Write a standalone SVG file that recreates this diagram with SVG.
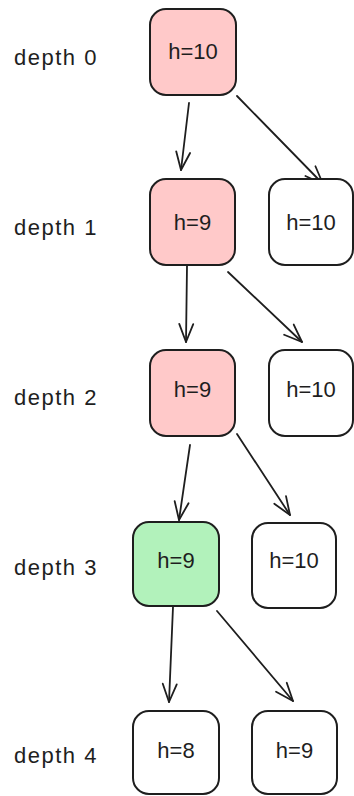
<svg xmlns="http://www.w3.org/2000/svg" width="354" height="796" viewBox="0 0 354 796">
  <style>
    .box { stroke: #1e1e1e; stroke-width: 2; }
    .red { fill: #ffc9c9; }
    .green { fill: #b2f2bb; }
    .plain { fill: #ffffff; }
    .lbl { font-family: "Liberation Sans", Arial, sans-serif; font-size: 22px; fill: #1e1e1e; }
    .val { text-anchor: middle; }
    .depth { letter-spacing: 1.5px; }
    .edge { fill: none; stroke: #1e1e1e; stroke-width: 1.8; stroke-linecap: round; marker-end: url(#head); }
  </style>
  <defs>
    <marker id="head" markerUnits="userSpaceOnUse" markerWidth="24" markerHeight="20" viewBox="-20 -10 24 20" refX="0" refY="0" orient="auto">
      <path d="M-18,-7 L0,0 L-18,7" fill="none" stroke="#1e1e1e" stroke-width="1.8" stroke-linecap="round" stroke-linejoin="round"/>
    </marker>
  </defs>
  <rect width="354" height="796" fill="#ffffff"/>

  <!-- depth labels -->
  <g id="depth-labels">
    <text class="lbl depth" x="14" y="65">depth 0</text>
    <text class="lbl depth" x="14" y="235">depth 1</text>
    <text class="lbl depth" x="14" y="405">depth 2</text>
    <text class="lbl depth" x="14" y="575">depth 3</text>
    <text class="lbl depth" x="14" y="763">depth 4</text>
  </g>

  <!-- connectors -->
  <g id="edges">
    <path class="edge" d="M189,103 L181,170"/>
    <path class="edge" d="M237,96 L323,184"/>
    <path class="edge" d="M187,266 L186,342"/>
    <path class="edge" d="M228,272 L302,342"/>
    <path class="edge" d="M190,445 L179,520"/>
    <path class="edge" d="M237,434 L290,515"/>
    <path class="edge" d="M173,607 L169,702"/>
    <path class="edge" d="M217,611 L293,701"/>
  </g>

  <!-- depth 0 -->
  <g id="n0">
    <rect class="box red" x="150" y="9" width="86" height="86" rx="16"/>
    <text class="lbl val" x="193" y="59">h=10</text>
  </g>

  <!-- depth 1 -->
  <g id="n1a">
    <rect class="box red" x="150" y="179" width="85" height="86" rx="16"/>
    <text class="lbl val" x="192.5" y="230">h=9</text>
  </g>
  <g id="n1b">
    <rect class="box plain" x="269" y="179" width="84" height="86" rx="16"/>
    <text class="lbl val" x="311" y="230">h=10</text>
  </g>

  <!-- depth 2 -->
  <g id="n2a">
    <rect class="box red" x="150" y="350" width="85" height="86" rx="16"/>
    <text class="lbl val" x="192.5" y="397">h=9</text>
  </g>
  <g id="n2b">
    <rect class="box plain" x="269" y="350" width="84" height="86" rx="16"/>
    <text class="lbl val" x="311" y="397">h=10</text>
  </g>

  <!-- depth 3 -->
  <g id="n3a">
    <rect class="box green" x="133" y="522" width="86" height="84" rx="16"/>
    <text class="lbl val" x="176" y="568">h=9</text>
  </g>
  <g id="n3b">
    <rect class="box plain" x="252" y="523" width="84" height="85" rx="16"/>
    <text class="lbl val" x="294" y="568">h=10</text>
  </g>

  <!-- depth 4 -->
  <g id="n4a">
    <rect class="box plain" x="133" y="711" width="86" height="83" rx="16"/>
    <text class="lbl val" x="176" y="758">h=8</text>
  </g>
  <g id="n4b">
    <rect class="box plain" x="252" y="711" width="85" height="83" rx="16"/>
    <text class="lbl val" x="294.5" y="758">h=9</text>
  </g>
</svg>
